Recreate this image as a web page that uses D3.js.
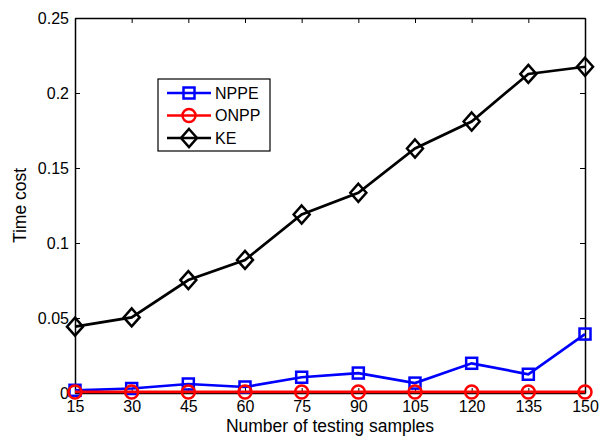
<!DOCTYPE html>
<html>
<head>
<meta charset="utf-8">
<script src="https://cdn.jsdelivr.net/npm/d3@7"></script>
<style>
  body { margin: 0; background: #fff; }
  svg { font-family: "Liberation Sans", Arial, sans-serif; }
</style>
</head>
<body>
<svg width="603" height="436"></svg>
<script>
// values
var samples = [15, 30, 45, 60, 75, 90, 105, 120, 135, 150];
var nppe = [0.0018, 0.003, 0.006, 0.004, 0.0105, 0.0133, 0.0066, 0.0198, 0.0125, 0.0393];
var onpp = [0.0007, 0.0007, 0.0007, 0.0007, 0.0007, 0.0007, 0.0007, 0.0007, 0.0007, 0.0007];
var ke = [0.0442, 0.0504, 0.0753, 0.0887, 0.119, 0.1335, 0.163, 0.181, 0.2127, 0.2175];
var yTicks = [0, 0.05, 0.1, 0.15, 0.2, 0.25];
var yTickLabels = ["0", "0.05", "0.1", "0.15", "0.2", "0.25"];
var seriesNames = ["NPPE", "ONPP", "KE"];

var svg = d3.select("svg"),
    margin = {top: 18, right: 18, bottom: 43, left: 75},
    width = +svg.attr("width") - margin.left - margin.right,
    height = +svg.attr("height") - margin.top - margin.bottom,
    g = svg.append("g").attr("transform", "translate(" + margin.left + "," + margin.top + ")");

var x = d3.scaleLinear().domain([15, 150]).range([0, width]);
var y = d3.scaleLinear().domain([0, 0.25]).range([height, 0]);

var series = [
  {name: seriesNames[0], values: nppe, color: "#0000ff", marker: "square"},
  {name: seriesNames[1], values: onpp, color: "#ff0000", marker: "circle"},
  {name: seriesNames[2], values: ke, color: "#000000", marker: "diamond"}
];

// axes (matlab style box, ticks inside)
var fmt = function(d, i) { return yTickLabels[i]; };
g.append("g").attr("transform", "translate(0," + height + ")")
  .call(d3.axisBottom(x).tickValues(samples).tickSizeInner(-5).tickSizeOuter(0).tickPadding(8));
g.append("g")
  .call(d3.axisTop(x).tickValues(samples).tickSizeInner(-5).tickSizeOuter(0).tickFormat(""));
g.append("g")
  .call(d3.axisLeft(y).tickValues(yTicks).tickSizeInner(-5).tickSizeOuter(0).tickPadding(6).tickFormat(fmt));
g.append("g").attr("transform", "translate(" + width + ",0)")
  .call(d3.axisRight(y).tickValues(yTicks).tickSizeInner(-5).tickSizeOuter(0).tickFormat(""));

g.selectAll(".domain").attr("stroke", "#000").attr("stroke-width", 1.5);
g.selectAll(".tick line").attr("stroke", "#000").attr("stroke-width", 1);
g.selectAll(".tick text").attr("font-size", 16).attr("fill", "#000")
  .attr("font-family", "Liberation Sans, Arial, sans-serif");

function drawMarker(sel, type, color) {
  if (type === "square") {
    sel.append("rect").attr("x", -5.5).attr("y", -5.5).attr("width", 11).attr("height", 11)
      .attr("fill", "none").attr("stroke", color).attr("stroke-width", 2.5);
  } else if (type === "circle") {
    sel.append("circle").attr("r", 6.5)
      .attr("fill", "none").attr("stroke", color).attr("stroke-width", 2.5);
  } else {
    sel.append("path").attr("d", "M0,-9L8,0L0,9L-8,0Z")
      .attr("fill", "none").attr("stroke", color).attr("stroke-width", 2.5);
  }
}

var line = d3.line()
  .x(function(d, i) { return x(samples[i]); })
  .y(function(d) { return y(d); });

series.forEach(function(s) {
  g.append("path")
    .datum(s.values)
    .attr("fill", "none")
    .attr("stroke", s.color)
    .attr("stroke-width", 2.7)
    .attr("d", line);
  g.selectAll(".m-" + s.marker)
    .data(s.values)
    .enter().append("g")
      .attr("class", "m-" + s.marker)
      .attr("transform", function(d, i) { return "translate(" + x(samples[i]) + "," + y(d) + ")"; })
      .each(function() { drawMarker(d3.select(this), s.marker, s.color); });
});

// legend
var legend = svg.append("g").attr("transform", "translate(158,79)");
legend.append("rect").attr("width", 112).attr("height", 72)
  .attr("fill", "#fff").attr("stroke", "#000").attr("stroke-width", 1.2);
series.forEach(function(s, i) {
  var row = legend.append("g").attr("transform", "translate(0," + (14 + i * 22.5) + ")");
  row.append("line").attr("x1", 9).attr("x2", 53).attr("y1", 0).attr("y2", 0)
    .attr("stroke", s.color).attr("stroke-width", 2.5);
  drawMarker(row.append("g").attr("transform", "translate(31,0)"), s.marker, s.color);
  row.append("text").attr("x", 57).attr("y", 0).attr("dy", "0.35em")
    .attr("font-size", 16).text(s.name);
});

// axis titles
svg.append("text")
  .attr("x", margin.left + width / 2).attr("y", 432)
  .attr("text-anchor", "middle").attr("font-size", 17.5)
  .text("Number of testing samples");
svg.append("text")
  .attr("transform", "translate(26," + (margin.top + height / 2) + ") rotate(-90)")
  .attr("text-anchor", "middle").attr("font-size", 17.5)
  .text("Time cost");
</script>
</body>
</html>
